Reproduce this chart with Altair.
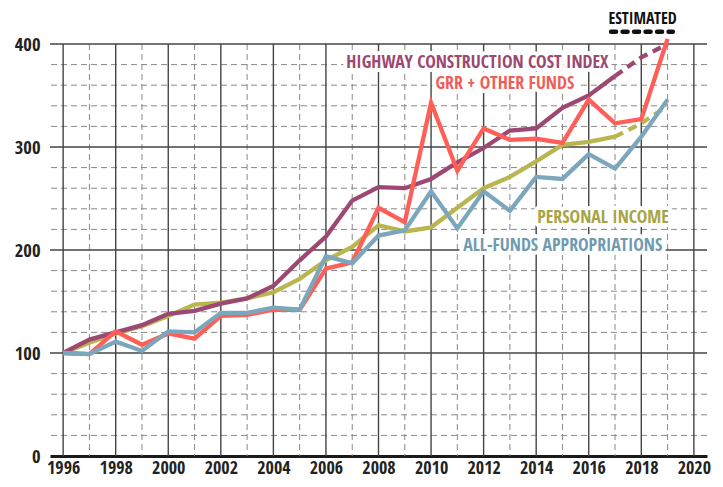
import altair as alt
import pandas as pd

# ---- data ----
years = list(range(1996, 2020))
highway = [100, 113, 120, 127, 138, 141, 148, 153, 165, 190, 213, 248, 261, 260, 269, 285,
           299, 316, 318, 338, 350, 369, 387, 400]
grr = [100, 99, 121, 108, 119, 114, 136, 137, 142, 142, 182, 188, 241, 227, 343, 277,
       318, 307, 308, 304, 346, 323, 327, 405]
income = [100, 110, 119, 126, 136, 147, 149, 153, 159, 172, 190, 203, 224, 218, 222, 241,
          260, 271, 286, 302, 305, 310, 323, 340]
allfunds = [100, 99, 111, 102, 121, 120, 139, 139, 144, 142, 194, 187, 214, 219, 257, 221,
            257, 238, 271, 269, 293, 279, 310, 346]
estimate_start = 2017

series_names = ["PERSONAL INCOME", "HIGHWAY CONSTRUCTION COST INDEX",
                "GRR + OTHER FUNDS", "ALL-FUNDS APPROPRIATIONS"]
series_values = [income, highway, grr, allfunds]
series_estimated = [True, True, False, False]
line_colors = ["#BAB64F", "#9C4872", "#FF5F57", "#7BA6BB"]
label_colors = ["#A7A443", "#9C4872", "#EE5E58", "#6F9AAF"]

x_ticks = list(range(1996, 2021, 2))
x_minor = list(range(1997, 2020, 2))
y_ticks = [0, 100, 200, 300, 400]
y_major_grid = [100, 200, 300, 400]
y_minor_grid = [v for v in range(20, 400, 20) if v % 100 != 0]

# annotation placements (data coordinates)
ann_text = ["HIGHWAY CONSTRUCTION COST INDEX", "GRR + OTHER FUNDS",
            "PERSONAL INCOME", "ALL-FUNDS APPROPRIATIONS"]
ann_x = [2016.75, 2015.45, 2019.05, 2018.8]
ann_y = [382, 361, 231, 204]
ann_color = [label_colors[1], label_colors[2], label_colors[0], label_colors[3]]

FONT = "Open Sans Condensed, Roboto Condensed, Liberation Sans Narrow, sans-serif"
ANN_SIZE = 17.8

# ---- tables ----
rows_solid, rows_est = [], []
for order, (name, vals, est) in enumerate(zip(series_names, series_values, series_estimated)):
    for y, v in zip(years, vals):
        if not (est and y > estimate_start):
            rows_solid.append({"series": name, "year": y, "value": v, "order": order})
        if est and y >= estimate_start:
            rows_est.append({"series": name, "year": y, "value": v, "order": order})
solid_df = pd.DataFrame(rows_solid)
est_df = pd.DataFrame(rows_est)

ann_df = pd.DataFrame({"text": ann_text, "year": ann_x, "value": ann_y, "color": ann_color})

x_scale = alt.Scale(domain=[1995.5, 2020.5], nice=False, zero=False)
y_scale = alt.Scale(domain=[0, 400], nice=False)
x_axis = alt.Axis(values=x_ticks, format="d", title=None, grid=False, ticks=False,
                  labelFont=FONT, labelFontSize=18, labelFontWeight="bold", labelColor="#222",
                  labelPadding=3, domain=True, domainColor="#1a1a1a", domainWidth=3,
                  labelFlush=False)
y_axis = alt.Axis(values=y_ticks, title=None, grid=False, ticks=False, domain=False,
                  labelFont=FONT, labelFontSize=18.5, labelFontWeight="bold", labelColor="#222",
                  labelPadding=10)

X = lambda f="year": alt.X(f"{f}:Q", scale=x_scale, axis=x_axis)
Y = lambda f="value": alt.Y(f"{f}:Q", scale=y_scale, axis=y_axis)

vminor = alt.Chart(pd.DataFrame({"year": x_minor})).mark_rule(
    color="#888888", strokeWidth=1, strokeDash=[6, 4]).encode(x=X())
hminor = alt.Chart(pd.DataFrame({"value": y_minor_grid})).mark_rule(
    color="#888888", strokeWidth=1, strokeDash=[6, 4]).encode(y=Y())
vmajor = alt.Chart(pd.DataFrame({"year": x_ticks})).mark_rule(
    color="#444444", strokeWidth=1.4).encode(x=X())
hmajor = alt.Chart(pd.DataFrame({"value": y_major_grid})).mark_rule(
    color="#444444", strokeWidth=1.4).encode(y=Y())

ann_halo = alt.Chart(ann_df).mark_text(
    font=FONT, fontSize=ANN_SIZE, fontWeight="bold", align="right", baseline="middle",
    stroke="white", strokeWidth=8, strokeJoin="round", fill="white"
).encode(x=X(), y=Y(), text="text:N")

lines_solid = []
lines_est = []
for name, c in zip(series_names, line_colors):
    lines_solid.append(alt.Chart(solid_df).transform_filter(alt.datum.series == name).mark_line(
        strokeWidth=4.3, color=c, clip=False).encode(x=X(), y=Y(), order="year:Q"))
    lines_est.append(alt.Chart(est_df).transform_filter(alt.datum.series == name).mark_line(
        strokeWidth=4.3, color=c, strokeDash=[9, 6], clip=False).encode(x=X(), y=Y(), order="year:Q"))

ann_text_layer = alt.Chart(ann_df).mark_text(
    font=FONT, fontSize=ANN_SIZE, fontWeight="bold", align="right", baseline="middle"
).encode(x=X(), y=Y(), text="text:N", color=alt.Color("color:N", scale=None))

est_label_df = pd.DataFrame({"text": ["ESTIMATED"], "year": [2018.05], "value": [424],
                             "x1": [2016.85], "x2": [2019.2], "ly": [412]})
est_label = alt.Chart(est_label_df).mark_text(
    font=FONT, fontSize=16, fontWeight="bold", align="center", baseline="middle", color="#111"
).encode(x=X(), y=Y(), text="text:N")
est_dash = alt.Chart(est_label_df).mark_rule(
    color="#111", strokeWidth=4.5, strokeDash=[5, 6.5], strokeCap="round", clip=False
).encode(x=X("x1"), x2="x2:Q", y=Y("ly"))

layers = [vminor, hminor, vmajor, hmajor, ann_halo]
for s, e in zip(lines_solid, lines_est):
    layers += [s, e]
layers += [ann_text_layer, est_label, est_dash]

chart = alt.layer(*layers).properties(
    width=657, height=412,
    autosize=alt.AutoSizeParams(type="none"),
    padding={"left": 42, "top": 36, "right": 8, "bottom": 23},
).configure_view(stroke=None)

chart.save("out.html", embed_options={"renderer": "svg", "actions": False})
